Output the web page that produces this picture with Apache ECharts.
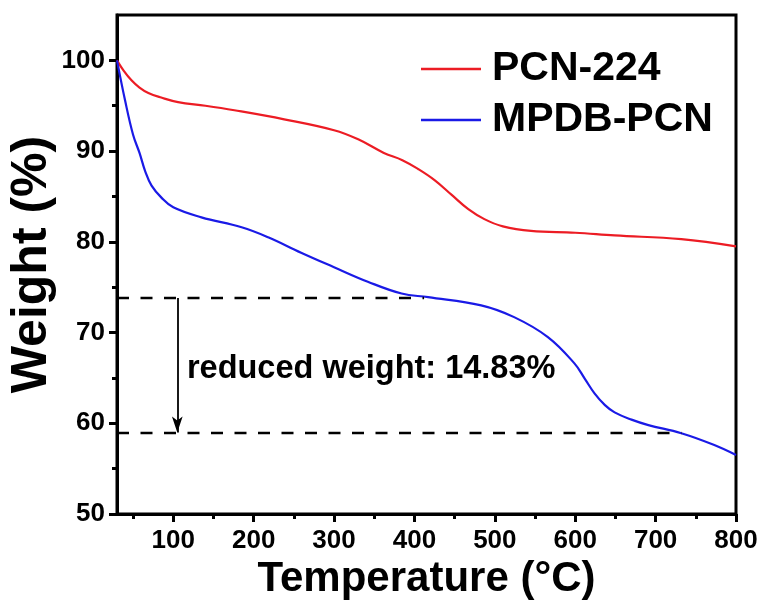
<!DOCTYPE html>
<html>
<head>
<meta charset="utf-8">
<script src="https://cdn.jsdelivr.net/npm/echarts@6/dist/echarts.min.js"></script>
<style>
  html, body { margin: 0; padding: 0; background: #fff; }
  #chart { width: 761px; height: 605px; }
</style>
</head>
<body>
<div id="chart"></div>
<script>
// TGA curves
const tempRed = [30, 38, 48, 58, 69, 85, 106, 140, 176, 238, 300, 330, 362, 385, 405, 425, 446, 467, 487, 510, 545, 600, 649, 732, 800]
const weightRed = [100, 98.9, 97.8, 97.0, 96.4, 95.9, 95.4, 95.0, 94.5, 93.5, 92.3, 91.3, 89.8, 89.0, 88.0, 86.8, 85.2, 83.6, 82.5, 81.7, 81.2, 81.0, 80.7, 80.3, 79.5]

const tempBlue = [30, 40, 50, 58, 65, 73, 85, 100, 135, 185, 218, 259, 300, 342, 384, 417, 483, 524, 566, 599, 612, 624, 637, 649, 670, 691, 732, 773, 800]
const weightBlue = [100, 95.6, 91.8, 89.8, 87.8, 86.2, 84.9, 83.8, 82.7, 81.6, 80.5, 78.8, 77.2, 75.6, 74.3, 73.9, 73.0, 71.7, 69.5, 66.6, 64.9, 63.3, 62.0, 61.2, 60.4, 59.8, 58.9, 57.6, 56.5]

const seriesNames = ['PCN-224', 'MPDB-PCN']
const xMajorTicks = [100, 200, 300, 400, 500, 600, 700, 800]
const xMinorTicks = [50, 150, 250, 350, 450, 550, 650, 750]
const yMajorTicks = [50, 60, 70, 80, 90, 100]
const yMinorTicks = [55, 65, 75, 85, 95]

// annotation: weight drop between the two dashed levels
const upperLevel = 73.8
const lowerLevel = 58.97
const upperEndTemp = 412
const lowerEndTemp = 732
const arrowTemp = 105
const noteText = 'reduced weight: 14.83%'
const noteAt = [117, 66.0]

const FONT = '"Liberation Sans", Arial, sans-serif'
const toPairs = (xs, ys) => xs.map((x, i) => [x, ys[i]])

const tickLine = { color: '#000', width: 3 }
const labelFont = { fontFamily: FONT, fontWeight: 'bold', fontSize: 26, color: '#000' }

const chart = echarts.init(document.getElementById('chart'))

chart.setOption({
  animation: false,
  backgroundColor: '#fff',
  grid: {
    left: 117, right: 25, top: 15, bottom: 91,
    outerBoundsMode: 'none',
    containLabel: false,
    show: true, borderColor: '#000', borderWidth: 3
  },
  legend: {
    orient: 'vertical',
    left: 416,
    top: 43,
    icon: 'rect',
    itemWidth: 60,
    itemHeight: 2.5,
    itemGap: 9,
    data: seriesNames,
    textStyle: { fontFamily: FONT, fontWeight: 'bold', fontSize: 41, color: '#000', lineHeight: 42, padding: [0, 0, 0, 6] }
  },
  xAxis: [
    {
      type: 'value',
      min: 30,
      max: 800,
      name: 'Temperature (°C)',
      nameLocation: 'middle',
      nameGap: 44,
      nameMoveOverlap: false,
      nameTextStyle: { fontFamily: FONT, fontWeight: 'bold', fontSize: 42, color: '#000' },
      axisLine: { show: true, onZero: false, lineStyle: { color: '#000', width: 3 } },
      axisTick: { show: true, inside: false, length: 8, customValues: xMajorTicks, lineStyle: tickLine },
      axisLabel: Object.assign({ customValues: xMajorTicks, margin: 14 }, labelFont),
      splitLine: { show: false }
    },
    {
      type: 'value',
      position: 'bottom',
      min: 30,
      max: 800,
      axisLine: { show: false },
      axisTick: { show: true, inside: false, length: 5, customValues: xMinorTicks, lineStyle: tickLine },
      axisLabel: { show: false },
      splitLine: { show: false }
    }
  ],
  yAxis: [
    {
      type: 'value',
      min: 50,
      max: 105,
      name: 'Weight (%)',
      nameLocation: 'middle',
      nameGap: 60,
      nameMoveOverlap: false,
      nameTextStyle: { fontFamily: FONT, fontWeight: 'bold', fontSize: 50, color: '#000' },
      axisLine: { show: true, onZero: false, lineStyle: { color: '#000', width: 3 } },
      axisTick: { show: true, inside: false, length: 8, customValues: yMajorTicks, lineStyle: tickLine },
      axisLabel: Object.assign({ customValues: yMajorTicks, margin: 12 }, labelFont),
      splitLine: { show: false }
    },
    {
      type: 'value',
      position: 'left',
      min: 50,
      max: 105,
      axisLine: { show: false },
      axisTick: { show: true, inside: false, length: 5, customValues: yMinorTicks, lineStyle: tickLine },
      axisLabel: { show: false },
      splitLine: { show: false }
    }
  ],
  series: [
    {
      name: seriesNames[0],
      type: 'line',
      smooth: 0.4,
      symbol: 'none',
      color: '#ec1c24',
      lineStyle: { width: 2.2, color: '#ec1c24' },
      data: toPairs(tempRed, weightRed),
      z: 3
    },
    {
      name: seriesNames[1],
      type: 'line',
      smooth: 0.4,
      symbol: 'none',
      color: '#1a1ae6',
      lineStyle: { width: 2.2, color: '#1a1ae6' },
      data: toPairs(tempBlue, weightBlue),
      z: 3,
      markLine: {
        silent: true,
        symbol: 'none',
        label: { show: false },
        lineStyle: { color: '#000', width: 2.3, type: [12, 11.5] },
        data: [
          [{ coord: [30, upperLevel] }, { coord: [upperEndTemp, upperLevel] }],
          [{ coord: [30, lowerLevel] }, { coord: [lowerEndTemp, lowerLevel] }],
          [
            { coord: [arrowTemp, upperLevel], symbol: 'none', lineStyle: { type: 'solid', width: 1.8, color: '#000' } },
            { coord: [arrowTemp, lowerLevel], symbol: 'arrow', symbolSize: [8, 16] }
          ]
        ]
      },
      markPoint: {
        silent: true,
        symbol: 'circle',
        symbolSize: 0,
        data: [
          {
            coord: noteAt,
            label: {
              show: true,
              position: 'right',
              distance: 0,
              formatter: noteText,
              fontFamily: FONT,
              fontWeight: 'bold',
              fontSize: 32.5,
              color: '#000'
            }
          }
        ]
      }
    }
  ]
})
</script>
</body>
</html>
